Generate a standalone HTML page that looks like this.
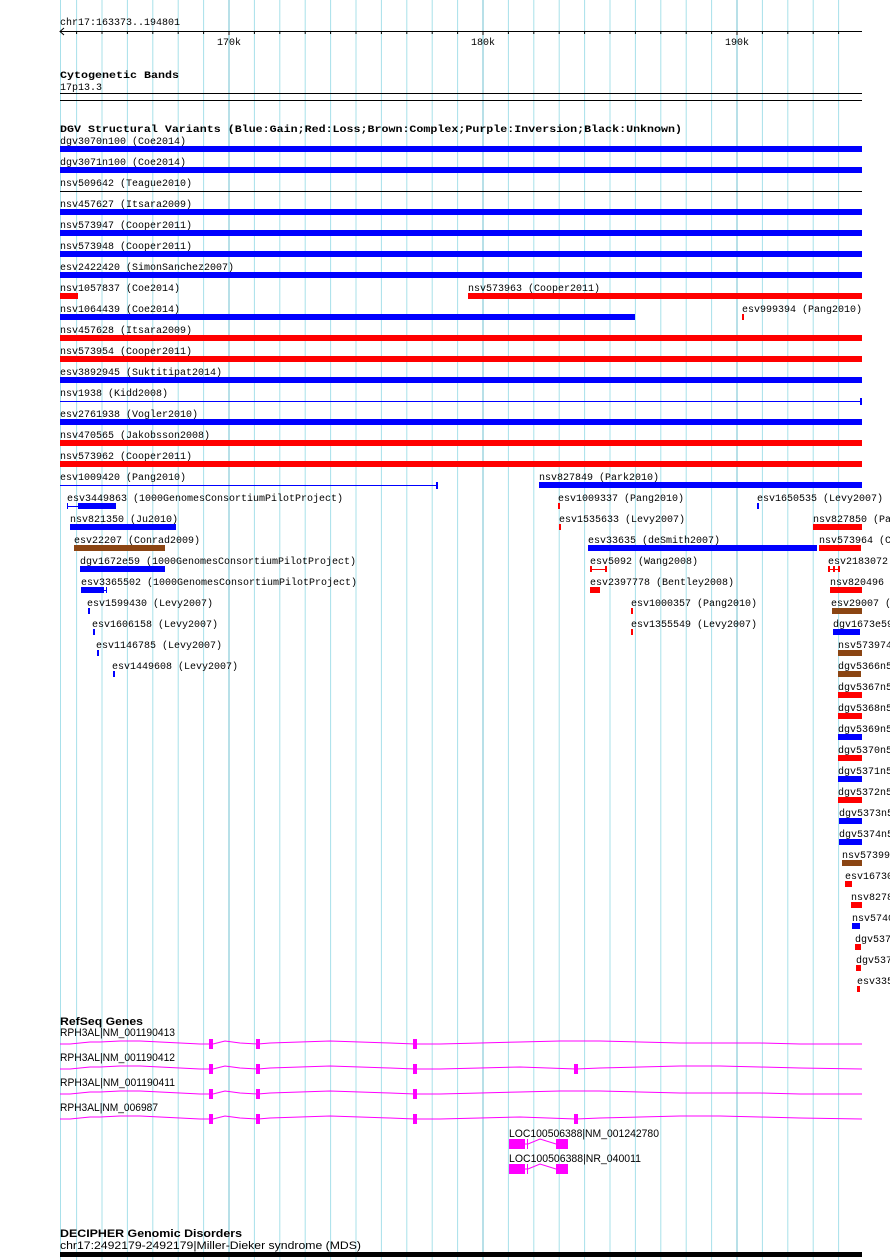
<!DOCTYPE html>
<html><head><meta charset="utf-8"><style>
html,body{margin:0;padding:0;background:#fff;}
svg{display:block;}
text{font-family:"Liberation Mono",monospace;font-size:10px;fill:#000;}
.b{font-weight:bold;}
.s{font-family:"Liberation Sans",sans-serif;font-size:11px;}
.g{stroke:#a8e0ea;stroke-width:1;}
.G{stroke:#70c0d0;stroke-width:1;}
</style></head><body>
<svg width="890" height="1260" viewBox="0 0 890 1260" xmlns="http://www.w3.org/2000/svg">
<g>
<line class="g" x1="60.5" y1="0" x2="60.5" y2="1260"/>
<line class="g" x1="76.6" y1="0" x2="76.6" y2="1260"/>
<line class="g" x1="102" y1="0" x2="102" y2="1260"/>
<line class="g" x1="127.4" y1="0" x2="127.4" y2="1260"/>
<line class="g" x1="152.8" y1="0" x2="152.8" y2="1260"/>
<line class="g" x1="178.2" y1="0" x2="178.2" y2="1260"/>
<line class="g" x1="203.6" y1="0" x2="203.6" y2="1260"/>
<line class="G" x1="229" y1="0" x2="229" y2="1260"/>
<line class="g" x1="254.4" y1="0" x2="254.4" y2="1260"/>
<line class="g" x1="279.8" y1="0" x2="279.8" y2="1260"/>
<line class="g" x1="305.2" y1="0" x2="305.2" y2="1260"/>
<line class="g" x1="330.6" y1="0" x2="330.6" y2="1260"/>
<line class="g" x1="356" y1="0" x2="356" y2="1260"/>
<line class="g" x1="381.4" y1="0" x2="381.4" y2="1260"/>
<line class="g" x1="406.8" y1="0" x2="406.8" y2="1260"/>
<line class="g" x1="432.2" y1="0" x2="432.2" y2="1260"/>
<line class="g" x1="457.6" y1="0" x2="457.6" y2="1260"/>
<line class="G" x1="483" y1="0" x2="483" y2="1260"/>
<line class="g" x1="508.4" y1="0" x2="508.4" y2="1260"/>
<line class="g" x1="533.8" y1="0" x2="533.8" y2="1260"/>
<line class="g" x1="559.2" y1="0" x2="559.2" y2="1260"/>
<line class="g" x1="584.6" y1="0" x2="584.6" y2="1260"/>
<line class="g" x1="610" y1="0" x2="610" y2="1260"/>
<line class="g" x1="635.4" y1="0" x2="635.4" y2="1260"/>
<line class="g" x1="660.8" y1="0" x2="660.8" y2="1260"/>
<line class="g" x1="686.2" y1="0" x2="686.2" y2="1260"/>
<line class="g" x1="711.6" y1="0" x2="711.6" y2="1260"/>
<line class="G" x1="737" y1="0" x2="737" y2="1260"/>
<line class="g" x1="762.4" y1="0" x2="762.4" y2="1260"/>
<line class="g" x1="787.8" y1="0" x2="787.8" y2="1260"/>
<line class="g" x1="813.2" y1="0" x2="813.2" y2="1260"/>
<line class="g" x1="838.6" y1="0" x2="838.6" y2="1260"/>
</g>
<!-- ruler -->
<text x="60" y="25">chr17:163373..194801</text>
<line x1="60" y1="31.5" x2="862" y2="31.5" stroke="#000"/>
<path d="M64 28 L60 31.5 L64 35" fill="none" stroke="#000"/>
<g stroke="#000">
<line x1="76.6" y1="31" x2="76.6" y2="34"/><line x1="102" y1="31" x2="102" y2="34"/><line x1="127.4" y1="31" x2="127.4" y2="34"/><line x1="152.8" y1="31" x2="152.8" y2="34"/><line x1="178.2" y1="31" x2="178.2" y2="34"/><line x1="203.6" y1="31" x2="203.6" y2="34"/><line x1="229" y1="31" x2="229" y2="35"/><line x1="254.4" y1="31" x2="254.4" y2="34"/><line x1="279.8" y1="31" x2="279.8" y2="34"/><line x1="305.2" y1="31" x2="305.2" y2="34"/><line x1="330.6" y1="31" x2="330.6" y2="34"/><line x1="356" y1="31" x2="356" y2="34"/><line x1="381.4" y1="31" x2="381.4" y2="34"/><line x1="406.8" y1="31" x2="406.8" y2="34"/><line x1="432.2" y1="31" x2="432.2" y2="34"/><line x1="457.6" y1="31" x2="457.6" y2="34"/><line x1="483" y1="31" x2="483" y2="35"/><line x1="508.4" y1="31" x2="508.4" y2="34"/><line x1="533.8" y1="31" x2="533.8" y2="34"/><line x1="559.2" y1="31" x2="559.2" y2="34"/><line x1="584.6" y1="31" x2="584.6" y2="34"/><line x1="610" y1="31" x2="610" y2="34"/><line x1="635.4" y1="31" x2="635.4" y2="34"/><line x1="660.8" y1="31" x2="660.8" y2="34"/><line x1="686.2" y1="31" x2="686.2" y2="34"/><line x1="711.6" y1="31" x2="711.6" y2="34"/><line x1="737" y1="31" x2="737" y2="35"/><line x1="762.4" y1="31" x2="762.4" y2="34"/><line x1="787.8" y1="31" x2="787.8" y2="34"/><line x1="813.2" y1="31" x2="813.2" y2="34"/><line x1="838.6" y1="31" x2="838.6" y2="34"/>
</g>
<text x="229" y="45" text-anchor="middle">170k</text>
<text x="483" y="45" text-anchor="middle">180k</text>
<text x="737" y="45" text-anchor="middle">190k</text>
<!-- cyto -->
<text class="b" x="60" y="78" textLength="119" lengthAdjust="spacingAndGlyphs">Cytogenetic Bands</text>
<text x="60" y="90">17p13.3</text>
<rect x="60" y="93" width="802" height="1" fill="#000"/>
<rect x="60" y="100" width="802" height="1" fill="#000"/>
<!-- DGV -->
<text class="b" x="60" y="132" textLength="622" lengthAdjust="spacingAndGlyphs">DGV Structural Variants (Blue:Gain;Red:Loss;Brown:Complex;Purple:Inversion;Black:Unknown)</text>
<g>
<text x="60" y="144">dgv3070n100 (Coe2014)</text><rect x="60" y="146" width="802" height="6" fill="#00f"/>
<text x="60" y="165">dgv3071n100 (Coe2014)</text><rect x="60" y="167" width="802" height="6" fill="#00f"/>
<text x="60" y="186">nsv509642 (Teague2010)</text><rect x="60" y="191" width="802" height="1" fill="#000"/>
<text x="60" y="207">nsv457627 (Itsara2009)</text><rect x="60" y="209" width="802" height="6" fill="#00f"/>
<text x="60" y="228">nsv573947 (Cooper2011)</text><rect x="60" y="230" width="802" height="6" fill="#00f"/>
<text x="60" y="249">nsv573948 (Cooper2011)</text><rect x="60" y="251" width="802" height="6" fill="#00f"/>
<text x="60" y="270">esv2422420 (SimonSanchez2007)</text><rect x="60" y="272" width="802" height="6" fill="#00f"/>
<text x="60" y="291">nsv1057837 (Coe2014)</text><rect x="60" y="293" width="18" height="6" fill="#f00"/>
<text x="468" y="291">nsv573963 (Cooper2011)</text><rect x="468" y="293" width="394" height="6" fill="#f00"/>
<text x="60" y="312">nsv1064439 (Coe2014)</text><rect x="60" y="314" width="575" height="6" fill="#00f"/>
<text x="742" y="312">esv999394 (Pang2010)</text><rect x="742" y="314" width="2" height="6" fill="#f00"/>
<text x="60" y="333">nsv457628 (Itsara2009)</text><rect x="60" y="335" width="802" height="6" fill="#f00"/>
<text x="60" y="354">nsv573954 (Cooper2011)</text><rect x="60" y="356" width="802" height="6" fill="#f00"/>
<text x="60" y="375">esv3892945 (Suktitipat2014)</text><rect x="60" y="377" width="802" height="6" fill="#00f"/>
<text x="60" y="396">nsv1938 (Kidd2008)</text><rect x="60" y="401" width="802" height="1" fill="#00f"/><rect x="860" y="398" width="2" height="7" fill="#00f"/>
<text x="60" y="417">esv2761938 (Vogler2010)</text><rect x="60" y="419" width="802" height="6" fill="#00f"/>
<text x="60" y="438">nsv470565 (Jakobsson2008)</text><rect x="60" y="440" width="802" height="6" fill="#f00"/>
<text x="60" y="459">nsv573962 (Cooper2011)</text><rect x="60" y="461" width="802" height="6" fill="#f00"/>
<text x="60" y="480">esv1009420 (Pang2010)</text><rect x="60" y="485" width="378" height="1" fill="#00f"/><rect x="436" y="482" width="2" height="7" fill="#00f"/>
<text x="539" y="480">nsv827849 (Park2010)</text><rect x="539" y="482" width="323" height="6" fill="#00f"/>
<text x="67" y="501">esv3449863 (1000GenomesConsortiumPilotProject)</text><rect x="67" y="506" width="12" height="1" fill="#00f"/><rect x="67" y="503" width="1" height="6" fill="#00f"/><rect x="78" y="503" width="38" height="6" fill="#00f"/>
<text x="558" y="501">esv1009337 (Pang2010)</text><rect x="558" y="503" width="2" height="6" fill="#f00"/>
<text x="757" y="501">esv1650535 (Levy2007)</text><rect x="757" y="503" width="2" height="6" fill="#00f"/>
<text x="70" y="522">nsv821350 (Ju2010)</text><rect x="70" y="524" width="106" height="6" fill="#00f"/>
<text x="559" y="522">esv1535633 (Levy2007)</text><rect x="559" y="524" width="2" height="6" fill="#f00"/>
<text x="813" y="522">nsv827850 (Park2010)</text><rect x="813" y="524" width="49" height="6" fill="#f00"/>
<text x="74" y="543">esv22207 (Conrad2009)</text><rect x="74" y="545" width="91" height="6" fill="#8b4513"/>
<text x="588" y="543">esv33635 (deSmith2007)</text><rect x="588" y="545" width="229" height="6" fill="#00f"/>
<text x="819" y="543">nsv573964 (Cooper2011)</text><rect x="819" y="545" width="42" height="6" fill="#f00"/>
<text x="80" y="564">dgv1672e59 (1000GenomesConsortiumPilotProject)</text><rect x="80" y="566" width="85" height="6" fill="#00f"/>
<text x="590" y="564">esv5092 (Wang2008)</text><rect x="590" y="569" width="17" height="1" fill="#f00"/><rect x="590" y="566" width="2" height="6" fill="#f00"/><rect x="605" y="566" width="2" height="6" fill="#f00"/>
<text x="828" y="564">esv2183072 (Pang2010)</text><rect x="828" y="569" width="12" height="1" fill="#f00"/><rect x="828" y="566" width="2" height="6" fill="#f00"/><rect x="833" y="566" width="2" height="6" fill="#f00"/><rect x="838" y="566" width="2" height="6" fill="#f00"/>
<text x="81" y="585">esv3365502 (1000GenomesConsortiumPilotProject)</text><rect x="81" y="587" width="23" height="6" fill="#00f"/><rect x="104" y="590" width="3" height="1" fill="#00f"/><rect x="106" y="587" width="1" height="6" fill="#00f"/>
<text x="590" y="585">esv2397778 (Bentley2008)</text><rect x="590" y="587" width="10" height="6" fill="#f00"/>
<text x="830" y="585">nsv820496 (Park2010)</text><rect x="830" y="587" width="32" height="6" fill="#f00"/>
<text x="87" y="606">esv1599430 (Levy2007)</text><rect x="88" y="608" width="2" height="6" fill="#00f"/>
<text x="631" y="606">esv1000357 (Pang2010)</text><rect x="631" y="608" width="2" height="6" fill="#f00"/>
<text x="831" y="606">esv29007 (Redon2006)</text><rect x="832" y="608" width="30" height="6" fill="#8b4513"/>
<text x="92" y="627">esv1606158 (Levy2007)</text><rect x="93" y="629" width="2" height="6" fill="#00f"/>
<text x="631" y="627">esv1355549 (Levy2007)</text><rect x="631" y="629" width="2" height="6" fill="#f00"/>
<text x="833" y="627">dgv1673e59 (1000Genomes)</text><rect x="833" y="629" width="27" height="6" fill="#00f"/>
<text x="96" y="648">esv1146785 (Levy2007)</text><rect x="97" y="650" width="2" height="6" fill="#00f"/>
<text x="838" y="648">nsv573974 (Cooper)</text><rect x="838" y="650" width="24" height="6" fill="#8b4513"/>
<text x="112" y="669">esv1449608 (Levy2007)</text><rect x="113" y="671" width="2" height="6" fill="#00f"/>
<text x="838" y="669">dgv5366n54</text><rect x="838" y="671" width="23" height="6" fill="#8b4513"/>
<text x="838" y="690">dgv5367n54</text><rect x="838" y="692" width="24" height="6" fill="#f00"/>
<text x="838" y="711">dgv5368n54</text><rect x="838" y="713" width="24" height="6" fill="#f00"/>
<text x="838" y="732">dgv5369n54</text><rect x="838" y="734" width="24" height="6" fill="#00f"/>
<text x="838" y="753">dgv5370n54</text><rect x="838" y="755" width="24" height="6" fill="#f00"/>
<text x="838" y="774">dgv5371n54</text><rect x="838" y="776" width="24" height="6" fill="#00f"/>
<text x="838" y="795">dgv5372n54</text><rect x="838" y="797" width="24" height="6" fill="#f00"/>
<text x="839" y="816">dgv5373n54</text><rect x="839" y="818" width="23" height="6" fill="#00f"/>
<text x="839" y="837">dgv5374n54</text><rect x="839" y="839" width="23" height="6" fill="#00f"/>
<text x="842" y="858">nsv573997</text><rect x="842" y="860" width="20" height="6" fill="#8b4513"/>
<text x="845" y="879">esv1673000</text><rect x="845" y="881" width="7" height="6" fill="#f00"/>
<text x="851" y="900">nsv827800</text><rect x="851" y="902" width="11" height="6" fill="#f00"/>
<text x="852" y="921">nsv574000</text><rect x="852" y="923" width="8" height="6" fill="#00f"/>
<text x="855" y="942">dgv5375</text><rect x="855" y="944" width="6" height="6" fill="#f00"/>
<text x="856" y="963">dgv5376</text><rect x="856" y="965" width="5" height="6" fill="#f00"/>
<text x="857" y="984">esv3350</text><rect x="857" y="986" width="3" height="6" fill="#f00"/>
</g>
<!-- RefSeq -->
<text class="b s" x="60" y="1025" textLength="83" lengthAdjust="spacingAndGlyphs">RefSeq Genes</text>
<g fill="none" stroke="#f0f" stroke-width="1">
<path d="M60 1044 L70 1044 L90 1042 L100 1042 L120 1041 L140 1041 L160 1042 L180 1043 L200 1044 L211 1044 M213 1044 L225 1041 L240 1043 L258 1044 L270 1043 L300 1042 L330 1041 L360 1042 L390 1043 L415 1044 L440 1044 L480 1043 L520 1042 L560 1041 L600 1041 L640 1042 L680 1043 L720 1043 L760 1043 L800 1044 L862 1044"/>
<path d="M60 1069 L70 1069 L90 1067 L100 1067 L120 1066 L140 1066 L160 1067 L180 1068 L200 1069 L211 1069 M213 1069 L225 1066 L240 1068 L258 1069 L270 1068 L300 1067 L330 1066 L360 1067 L390 1068 L415 1069 L440 1069 L480 1068 L520 1067 L576 1069 L600 1068 L640 1067 L680 1066 L720 1066 L760 1067 L800 1068 L862 1069"/>
<path d="M60 1094 L70 1094 L90 1092 L100 1092 L120 1091 L140 1091 L160 1092 L180 1093 L200 1094 L211 1094 M213 1094 L225 1091 L240 1093 L258 1094 L270 1093 L300 1092 L330 1091 L360 1092 L390 1093 L415 1094 L440 1094 L480 1093 L520 1092 L560 1091 L600 1091 L640 1092 L680 1093 L720 1093 L760 1093 L800 1094 L862 1094"/>
<path d="M60 1119 L70 1119 L90 1117 L100 1117 L120 1116 L140 1116 L160 1117 L180 1118 L200 1119 L211 1119 M213 1119 L225 1116 L240 1118 L258 1119 L270 1118 L300 1117 L330 1116 L360 1117 L390 1118 L415 1119 L440 1119 L480 1118 L520 1117 L576 1119 L600 1118 L640 1117 L680 1116 L720 1116 L760 1117 L800 1118 L862 1119"/>
<path d="M525 1144 L528 1144 L540 1139 L556 1144"/>
<path d="M525 1169 L528 1169 L540 1164 L556 1169"/>
</g>
<g fill="#f0f">
<rect x="209" y="1039" width="4" height="10"/><rect x="256" y="1039" width="4" height="10"/><rect x="413" y="1039" width="4" height="10"/>
<rect x="209" y="1064" width="4" height="10"/><rect x="256" y="1064" width="4" height="10"/><rect x="413" y="1064" width="4" height="10"/><rect x="574" y="1064" width="4" height="10"/>
<rect x="209" y="1089" width="4" height="10"/><rect x="256" y="1089" width="4" height="10"/><rect x="413" y="1089" width="4" height="10"/>
<rect x="209" y="1114" width="4" height="10"/><rect x="256" y="1114" width="4" height="10"/><rect x="413" y="1114" width="4" height="10"/><rect x="574" y="1114" width="4" height="10"/>
<rect x="509" y="1139" width="16" height="10"/><rect x="527" y="1139" width="1" height="10"/><rect x="556" y="1139" width="12" height="10"/>
<rect x="509" y="1164" width="16" height="10"/><rect x="527" y="1164" width="1" height="10"/><rect x="556" y="1164" width="12" height="10"/>
</g>
<g class="s">
<text class="s" x="60" y="1036" textLength="115" lengthAdjust="spacingAndGlyphs">RPH3AL|NM_001190413</text>
<text class="s" x="60" y="1061" textLength="115" lengthAdjust="spacingAndGlyphs">RPH3AL|NM_001190412</text>
<text class="s" x="60" y="1086" textLength="115" lengthAdjust="spacingAndGlyphs">RPH3AL|NM_001190411</text>
<text class="s" x="60" y="1111" textLength="98" lengthAdjust="spacingAndGlyphs">RPH3AL|NM_006987</text>
<text class="s" x="509" y="1137" textLength="150" lengthAdjust="spacingAndGlyphs">LOC100506388|NM_001242780</text>
<text class="s" x="509" y="1162" textLength="132" lengthAdjust="spacingAndGlyphs">LOC100506388|NR_040011</text>
</g>
<text class="b s" x="60" y="1237" textLength="182" lengthAdjust="spacingAndGlyphs">DECIPHER Genomic Disorders</text>
<text class="s" x="60" y="1249" textLength="301" lengthAdjust="spacingAndGlyphs">chr17:2492179-2492179|Miller-Dieker syndrome (MDS)</text>
<rect x="60" y="1252" width="802" height="5" fill="#000"/>
</svg>
</body></html>
